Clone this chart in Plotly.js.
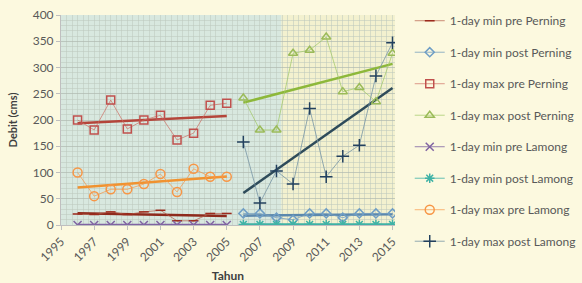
<!DOCTYPE html>
<html>
<head>
<meta charset="utf-8">
<script src="https://cdn.plot.ly/plotly-3.0.1.min.js"></script>
<style>html,body{margin:0;padding:0;background:#fcf9df;}#chart{width:582px;height:283px;}</style>
</head>
<body>
<div id="chart"></div>
<script>
// ---- data ----
const yearsPre = [1996, 1997, 1998, 1999, 2000, 2001, 2002, 2003, 2004, 2005];
const yearsPost = [2006, 2007, 2008, 2009, 2010, 2011, 2012, 2013, 2014, 2015];
const xTickYears = [1995, 1997, 1999, 2001, 2003, 2005, 2007, 2009, 2011, 2013, 2015];

const minPrePerning   = [21, 20, 25, 20, 25, 28, 8, 8, 22, 22];
const minPostPerning  = [22, 22, 14, 10, 22, 22, 14, 22, 22, 22];
const maxPrePerning   = [200, 181, 238, 183, 200, 209, 162, 175, 228, 232];
const maxPostPerning  = [242, 181, 181, 327, 333, 358, 254, 262, 235, 327];
const minPreLamong    = [0, 0, 0, 0, 0, 0, 0, 0, 0, 0];
const minPostLamong   = [1, 1, 1, 1, 1, 1, 1, 1, 1, 1];
const maxPreLamong    = [100, 55, 68, 68, 78, 97, 63, 107, 92, 92];
const maxPostLamong   = [158, 42, 103, 78, 222, 92, 131, 152, 284, 347];

const seriesNames = ['1-day min pre Perning', '1-day min post Perning', '1-day max pre Perning',
  '1-day max post Perning', '1-day min pre Lamong', '1-day min post Lamong',
  '1-day max pre Lamong', '1-day max post Lamong'];

// ---- styles ----
const styles = [
  {x: yearsPre,  y: minPrePerning,  mk: 'line-ew',         mc: '#9c2a1c', lc: 'rgba(180,90,70,0.7)',  tc: '#8e2a1c', ms: 7},
  {x: yearsPost, y: minPostPerning, mk: 'diamond-open',    mc: '#6f9ec5', lc: 'rgba(120,160,190,0.8)', tc: '#5c88ad', ms: 7},
  {x: yearsPre,  y: maxPrePerning,  mk: 'square-open',     mc: '#c0504d', lc: 'rgba(205,110,100,0.7)', tc: '#b4453a', ms: 8},
  {x: yearsPost, y: maxPostPerning, mk: 'triangle-up-open',mc: '#9bbb59', lc: 'rgba(160,200,100,0.7)', tc: '#8db83a', ms: 8},
  {x: yearsPre,  y: minPreLamong,   mk: 'x-thin-open',     mc: '#8064a2', lc: 'rgba(128,100,162,0.8)', tc: '#8064a2', ms: 8},
  {x: yearsPost, y: minPostLamong,  mk: 'asterisk-open',   mc: '#3fb2a6', lc: 'rgba(63,178,166,0.8)',  tc: '#3fb2a6', ms: 8},
  {x: yearsPre,  y: maxPreLamong,   mk: 'circle-open',     mc: '#f79646', lc: 'rgba(247,150,70,0.7)',  tc: '#f0922f', ms: 9},
  {x: yearsPost, y: maxPostLamong,  mk: 'cross-thin-open', mc: '#22405e', lc: 'rgba(120,150,165,0.8)', tc: '#2e4b5a', ms: 9}
];

function fit(xs, ys) {
  const n = xs.length;
  const mx = xs.reduce((a, b) => a + b, 0) / n;
  const my = ys.reduce((a, b) => a + b, 0) / n;
  let sxy = 0, sxx = 0;
  for (let i = 0; i < n; i++) { sxy += (xs[i] - mx) * (ys[i] - my); sxx += (xs[i] - mx) * (xs[i] - mx); }
  const b = sxy / sxx, a = my - b * mx;
  return xs.map(v => a + b * v);
}

const traces = [];
styles.forEach((s, i) => {
  const grp = 'g' + i;
  traces.push({
    x: s.x, y: fit(s.x, s.y), mode: 'lines', type: 'scatter', showlegend: false,
    legendgroup: grp, hoverinfo: 'skip',
    line: {color: s.tc, width: 2.5}
  });
});
styles.forEach((s, i) => {
  const grp = 'g' + i;
  traces.push({
    x: s.x, y: s.y, mode: 'lines+markers', type: 'scatter', name: seriesNames[i],
    legendgroup: grp,
    line: {color: s.lc, width: 1},
    marker: {symbol: s.mk, size: s.ms, color: s.mc, line: {color: s.mc, width: 1.5}}
  });
});

const layout = {
  width: 582, height: 283,
  margin: {l: 61, r: 187, t: 15, b: 58},
  paper_bgcolor: '#fcf9df',
  plot_bgcolor: '#e6eedc',
  font: {family: 'Lato, "Open Sans", sans-serif', size: 12, color: '#595959'},
  showlegend: true,
  legend: {
    xref: 'container', yref: 'container', x: 0.704, y: 0.978, xanchor: 'left', yanchor: 'top',
    bgcolor: 'rgba(0,0,0,0)', traceorder: 'grouped', tracegroupgap: 12.5, maxheight: 1,
    font: {size: 12, color: '#595959'}
  },
  xaxis: {
    range: [1995, 2015.15], tickvals: xTickYears, ticktext: xTickYears.map(String),
    tickangle: -45, showgrid: false, zeroline: false,
    showline: true, linecolor: '#bfbfbf', linewidth: 1, ticks: 'outside', ticklen: 4, tickcolor: '#bfbfbf',
    tickfont: {size: 12, color: '#595959'},
    minor: {dtick: 1 / 3, showgrid: true, gridcolor: 'rgba(190,200,190,0.55)', gridwidth: 1},
    title: {text: 'Tahun', font: {size: 12, color: '#404040', weight: 'bold'}, standoff: 9}
  },
  yaxis: {
    range: [0, 400], dtick: 50, showgrid: true, gridcolor: 'rgba(175,185,175,0.7)', zeroline: false,
    showline: true, linecolor: '#bfbfbf', ticks: 'outside', ticklen: 4, tickcolor: '#bfbfbf',
    tickfont: {size: 12, color: '#595959'},
    minor: {dtick: 10, showgrid: true, gridcolor: 'rgba(190,200,190,0.55)', gridwidth: 1},
    title: {text: 'Debit (cms)', font: {size: 11, color: '#404040', weight: 'bold'}, standoff: 12}
  },
  shapes: [
    {type: 'rect', xref: 'x', yref: 'paper', x0: 1995, x1: 2008.3, y0: 0, y1: 1, layer: 'below',
     fillcolor: '#d8e8df', line: {width: 0}},
    {type: 'rect', xref: 'x', yref: 'paper', x0: 2008.3, x1: 2015.15, y0: 0, y1: 1, layer: 'below',
     fillcolor: '#f3f1cf', line: {width: 0}}
  ]
};

Plotly.newPlot('chart', traces, layout, {displayModeBar: false, staticPlot: true});
</script>
</body>
</html>
